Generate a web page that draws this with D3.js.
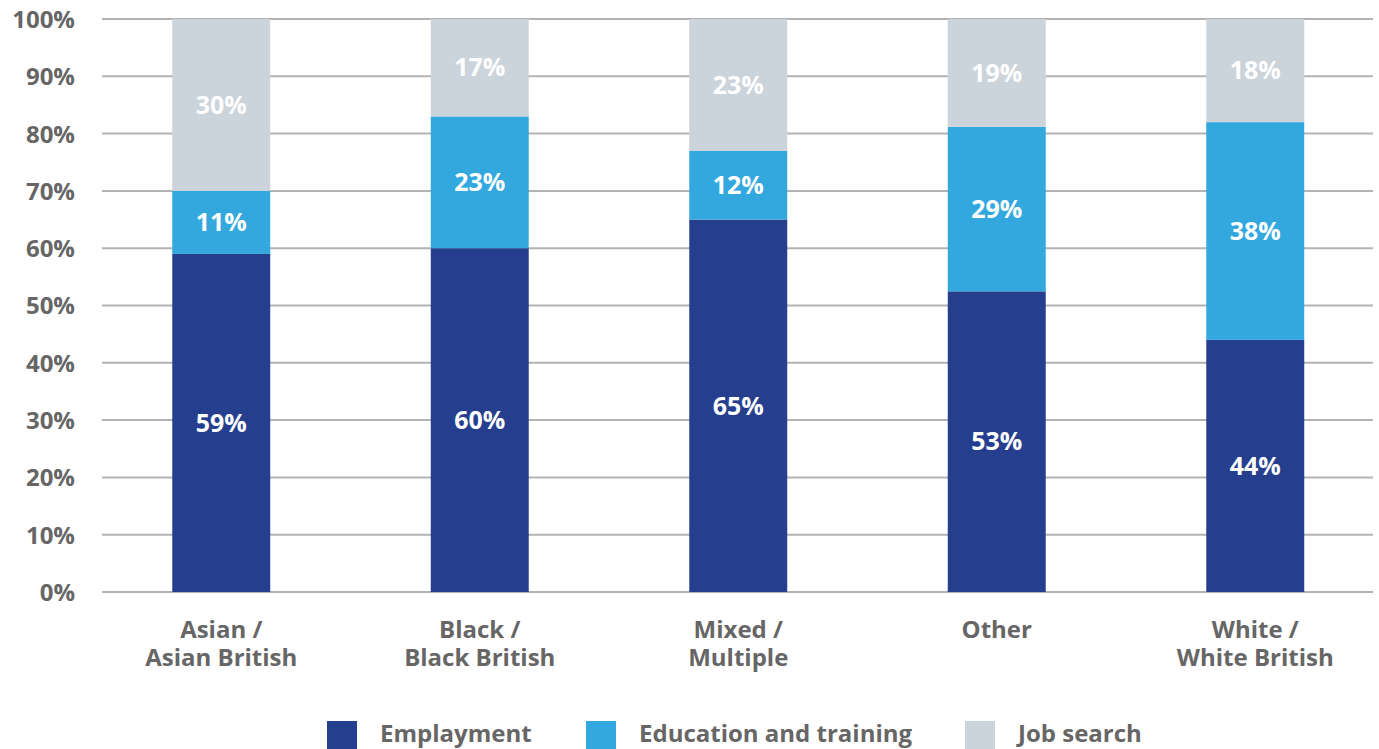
<!DOCTYPE html>
<html>
<head>
<meta charset="utf-8">
<script src="https://cdn.jsdelivr.net/npm/d3@7"></script>
<style>
  html, body { margin: 0; padding: 0; background: #fff; }
  svg { display: block; font-family: "Open Sans", sans-serif; font-weight: 700; }
</style>
</head>
<body>
<svg id="chart" width="1379" height="749"></svg>
<script>
// Ethnic group categories (two-line labels)
const categories = ["Asian / Asian British", "Black / Black British", "Mixed / Multiple", "Other", "White / White British"];
const categoryLines = [["Asian /", "Asian British"], ["Black /", "Black British"], ["Mixed /", "Multiple"], ["Other"], ["White /", "White British"]];

// Share of outcomes per group, in percent
const employment = [59, 60, 65, 53, 44];
const education = [11, 23, 12, 29, 38];
const jobSearch = [30, 17, 23, 19, 18];

const seriesNames = ["Emplayment", "Education and training", "Job search"];
const seriesKeys = ["employment", "education", "jobSearch"];
const yTicks = [0, 0.1, 0.2, 0.3, 0.4, 0.5, 0.6, 0.7, 0.8, 0.9, 1.0];

const colors = { employment: "#253f8e", education: "#33a8de", jobSearch: "#cbd3db" };
const textColor = "#666666";

const rows = categories.map((c, i) => ({
  category: c,
  employment: employment[i],
  education: education[i],
  jobSearch: jobSearch[i]
}));

const svg = d3.select("#chart");

const x = d3.scaleBand()
  .domain(categories)
  .range([92, 1384.5])
  .paddingInner(0.621)
  .paddingOuter(0.3105);

const y = d3.scaleLinear().domain([0, 1]).range([592, 19]);

// 100% stacked layout
const stacked = d3.stack().keys(seriesKeys).offset(d3.stackOffsetExpand)(rows);

// Gridlines
const grid = svg.append("g");
grid.selectAll("line")
  .data(yTicks)
  .join("line")
  .attr("x1", 102)
  .attr("x2", 1373)
  .attr("y1", d => y(d))
  .attr("y2", d => y(d))
  .attr("stroke", "#b3b3b3")
  .attr("stroke-width", 2);

// Y axis labels
const yAxis = d3.axisLeft(y).tickValues(yTicks).tickFormat(d3.format(".0%")).tickSize(0).tickPadding(0);
const yg = svg.append("g").attr("transform", "translate(75,0)").call(yAxis);
yg.select(".domain").remove();
yg.selectAll("text")
  .attr("fill", textColor)
  .style("font-family", "'Open Sans', sans-serif")
  .style("font-weight", 700)
  .style("font-size", "24px")
  .attr("dy", "0.35em");

// Bars
const layers = svg.append("g").selectAll("g")
  .data(stacked)
  .join("g")
  .attr("fill", d => colors[d.key]);

layers.selectAll("rect")
  .data(d => d)
  .join("rect")
  .attr("x", d => x(d.data.category))
  .attr("width", x.bandwidth())
  .attr("y", d => y(d[1]))
  .attr("height", d => y(d[0]) - y(d[1]));

// Value labels
const labels = svg.append("g");
stacked.forEach(layer => {
  labels.selectAll(null)
    .data(layer)
    .join("text")
    .attr("x", d => x(d.data.category) + x.bandwidth() / 2)
    .attr("y", d => (y(d[0]) + y(d[1])) / 2)
    .attr("dy", "0.35em")
    .attr("text-anchor", "middle")
    .attr("fill", "#ffffff")
    .style("font-size", "25px")
    .text(d => d.data[layer.key] + "%");
});

// Category labels, one text per line
const xl = svg.append("g");
categories.forEach((c, i) => {
  categoryLines[i].forEach((line, j) => {
    xl.append("text")
      .attr("x", x(c) + x.bandwidth() / 2)
      .attr("y", 638 + j * 28)
      .attr("text-anchor", "middle")
      .attr("fill", textColor)
      .style("font-size", "24px")
      .text(line);
  });
});

// Legend
const legendX = [327, 586, 965];
const legend = svg.append("g");
seriesKeys.forEach((k, i) => {
  legend.append("rect")
    .attr("x", legendX[i])
    .attr("y", 721)
    .attr("width", 30)
    .attr("height", 30)
    .attr("fill", colors[k]);
  legend.append("text")
    .attr("x", legendX[i] + 53)
    .attr("y", 742)
    .attr("fill", textColor)
    .style("font-size", "24px")
    .text(seriesNames[i]);
});
</script>
</body>
</html>
